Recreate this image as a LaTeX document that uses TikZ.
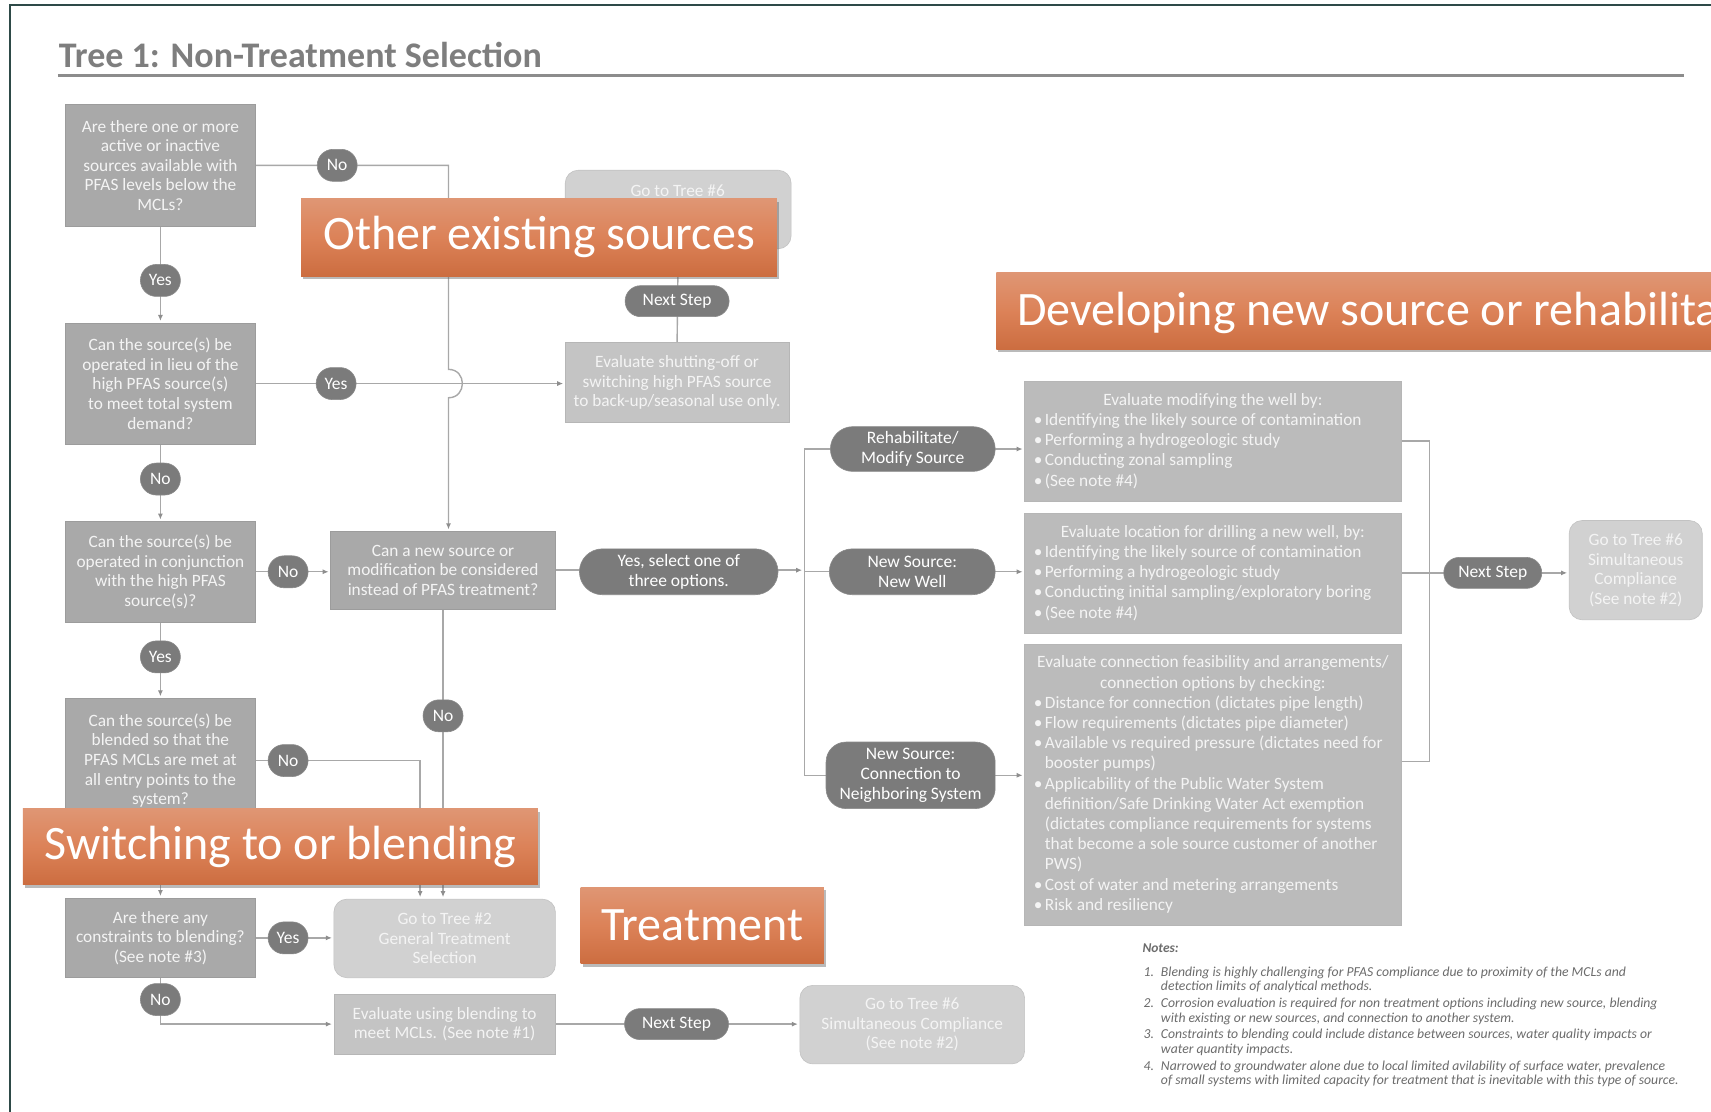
\documentclass[tikz,border=0pt]{standalone}
\usepackage{fontspec}
\setmainfont{Carlito}
\usetikzlibrary{shadows,arrows.meta,calc,shapes.misc}
\definecolor{qfill}{HTML}{A9A9A9}
\definecolor{qdraw}{HTML}{9C9C9C}
\definecolor{lfill}{HTML}{C4C4C4}
\definecolor{ldraw}{HTML}{B6B6B6}
\definecolor{mfill}{HTML}{BBBBBB}
\definecolor{rfill}{HTML}{D1D1D1}
\definecolor{rdraw}{HTML}{C2C2C2}
\definecolor{pillc}{HTML}{7B7B7B}
\definecolor{pilld}{HTML}{8A8A8A}
\definecolor{connc}{HTML}{A8A8A8}
\definecolor{tipc}{HTML}{8E8E8E}
\definecolor{boxtxt}{HTML}{F4F4F4}
\definecolor{titlec}{HTML}{7E7E7E}
\definecolor{rulec}{HTML}{8C8C8C}
\definecolor{framec}{HTML}{2E4A48}
\definecolor{otop}{HTML}{DF9674}
\definecolor{omid}{HTML}{DC8258}
\definecolor{obot}{HTML}{CC6D40}
\definecolor{notec}{HTML}{6C6C6C}
\newcommand{\bitem}{\makebox[11pt][l]{\textbullet}}
\newcommand{\bcont}{\hspace*{11pt}}
\newcommand{\bhead}[1]{\makebox[\linewidth][c]{#1}}
\newcommand{\blist}[1]{\begin{minipage}{358pt}\raggedright #1\end{minipage}}
\pgfdeclarelayer{bg}
\pgfsetlayers{bg,main}
\begin{document}
\begin{tikzpicture}[x=1.0912pt,y=-1.0912pt,
  every node/.style={inner sep=0pt, outer sep=0pt},
  bx/.style n args={4}{at={({(#1+#3)/2},{(#2+#4)/2})},
     minimum width={(#3-#1)*1.0912pt}, minimum height={(#4-#2)*1.0912pt}},
  boxfont/.style={font=\fontsize{17.3}{19.6}\selectfont},
  listfont/.style={font=\fontsize{17.3}{20.2}\selectfont},
  qbox/.style={draw=qdraw, line width=0.6pt, fill=qfill, text=boxtxt, align=center, boxfont},
  lbox/.style={qbox, fill=lfill, draw=ldraw},
  mbox/.style={draw=ldraw, line width=0.6pt, fill=mfill, text=boxtxt, listfont},
  rbox/.style={qbox, fill=rfill, draw=rdraw, rounded corners=13pt},
  pillbox/.style={rounded rectangle, fill=pillc, draw=pilld, line width=0.6pt, text=white, align=center, font=\fontsize{17.5}{19.6}\selectfont},
  sp/.style={pillbox, minimum width=40pt, minimum height=32pt},
  nsp/.style={pillbox, minimum width=104pt, minimum height=31pt},
  ln/.style={draw=connc, line width=1.4pt},
  arr/.style={ln, -{Latex[length=6pt,width=5pt,color=tipc]}, shorten >=2pt},
  orangebox/.style={top color=otop, bottom color=obot, middle color=omid, draw=none, text=white,
    font=\fontsize{48}{56}\selectfont,
    drop shadow={shadow xshift=2pt, shadow yshift=-3pt, opacity=0.45, fill=black!60}},
  otext/.style={text=white, font=\fontsize{48}{56}\selectfont}
  ]
\useasboundingbox (0,0) rectangle (1568,1019);
\begin{pgfonlayer}{bg}
\fill[white] (0,0) rectangle (1568,1019);
\end{pgfonlayer}
\clip (0,0) rectangle (1568,1019);

% frame, title
\draw[framec, line width=2pt] (9,1019) -- (9,5) -- (1568,5);
\node[anchor=west, text=titlec, font=\fontsize{36}{40}\selectfont\bfseries] (title) at (54,50) {Tree 1: Non-Treatment Selection};
\draw[rulec, line width=3pt] (53,69) -- (1543,69);

% question boxes
\node[qbox, bx={60}{96}{234}{207}] (q1) {Are there one or more\\active or inactive\\sources available with\\PFAS levels below the\\MCLs?};
\node[qbox, bx={60}{296}{234}{407}] (q2) {Can the source(s) be\\operated in lieu of the\\high PFAS source(s)\\to meet total system\\demand?};
\node[qbox, bx={60}{478}{234}{570}] (q3) {Can the source(s) be\\operated in conjunction\\with the high PFAS\\source(s)?};
\node[qbox, bx={60}{640}{234}{754}] (q4) {Can the source(s) be\\blended so that the\\PFAS MCLs are met at\\all entry points to the\\system?};
\node[qbox, bx={60}{823}{234}{896}] (q5) {Are there any\\constraints to blending?\\(See note \#3)};
\node[qbox, bx={303}{487}{509}{558}] (qnew) {Can a new source or\\modification be considered\\instead of PFAS treatment?};

% outcome boxes
\node[lbox, bx={518}{314}{723}{387}] (evalsw) {Evaluate shutting-off or\\switching high PFAS source\\to back-up/seasonal use only.};
\node[rbox, bx={518}{156}{725}{228}] (tree6a) {};
\node[text=boxtxt, boxfont] (tree6at) at (621,175) {Go to Tree \#6};
\node[rbox, bx={306}{824}{509}{896}] (tree2) {Go to Tree \#2\\General Treatment\\Selection};
\node[lbox, bx={306}{911}{509}{966}] (evalbl) {Evaluate using blending to\\meet MCLs. (See note \#1)};
\node[rbox, bx={733}{903}{939}{975}] (tree6b) {Go to Tree \#6\\Simultaneous Compliance\\(See note \#2)};
\node[rbox, bx={1438}{477}{1560}{568}] (tree6c) {Go to Tree \#6\\Simultaneous\\Compliance\\(See note \#2)};

\node[mbox, bx={939}{349}{1284}{459}] (evmod) {\blist{\bhead{Evaluate modifying the well by:}\\
\bitem Identifying the likely source of contamination\\
\bitem Performing a hydrogeologic study\\
\bitem Conducting zonal sampling\\
\bitem (See note \#4)}};
\node[mbox, bx={939}{470}{1284}{580}] (evnew) {\blist{\bhead{Evaluate location for drilling a new well, by:}\\
\bitem Identifying the likely source of contamination\\
\bitem Performing a hydrogeologic study\\
\bitem Conducting initial sampling/exploratory boring\\
\bitem (See note \#4)}};
\node[mbox, bx={939}{590}{1284}{848}] (evcon) {\blist{\bhead{Evaluate connection feasibility and arrangements/}\\
\bhead{connection options by checking:}\\
\bitem Distance for connection (dictates pipe length)\\
\bitem Flow requirements (dictates pipe diameter)\\
\bitem Available vs required pressure (dictates need for\\
\bcont booster pumps)\\
\bitem Applicability of the Public Water System\\
\bcont definition/Safe Drinking Water Act exemption\\
\bcont (dictates compliance requirements for systems\\
\bcont that become a sole source customer of another\\
\bcont PWS)\\
\bitem Cost of water and metering arrangements\\
\bitem Risk and resiliency}};

% pills
\node[sp] (no1) at ($(q1.east)+(75,0)$) {No};
\node[sp] (yes1) at ($(q1.south)+(0,50)$) {Yes};
\node[sp] (yes2) at ($(q2.east)+(74,0)$) {Yes};
\node[nsp] (ns1) at ($(evalsw.north)+(0,-38)$) {Next Step};
\node[sp] (no2) at ($(q2.south)+(0,32)$) {No};
\node[sp] (no3) at ($(q3.east)+(30,0)$) {No};
\node[pillbox, bx={531}{503}{713}{545}] (sel) {Yes, select one of\\three options.};
\node[pillbox, bx={761}{391}{912}{432}] (rehab) {Rehabilitate/\\Modify Source};
\node[pillbox, bx={760}{503}{912}{545}] (well) {New Source:\\New Well};
\node[pillbox, rectangle, rounded corners=20pt, bx={757}{680}{912}{741}] (conn) {New Source:\\Connection to\\Neighboring System};
\node[nsp, minimum width=98pt] (ns3) at ($(evnew.east)+(84,0)$) {Next Step};
\node[sp] (yes3) at ($(q3.south)+(0,32)$) {Yes};
\node[sp] (no4) at ($(q4.east)+(30,0)$) {No};
\node[sp] (no5) at ($(qnew.south)+(0,98)$) {No};
\node[sp] (yes4) at ($(q5.east)+(30,0)$) {Yes};
\node[sp] (no6) at ($(q5.south)+(0,20)$) {No};
\node[nsp] (ns2) at ($(evalbl.east)+(111,0)$) {Next Step};

% connectors
\coordinate (vx) at (411,0);
\coordinate (trunk) at (737,0);
\coordinate (brx) at (1310,0);
\coordinate (xk) at (385,0);
\begin{pgfonlayer}{bg}
\draw[arr] (q1.east) -- (q1.east -| vx) -- ($(vx |- q2.east)+(0,-13)$)
  .. controls ($(vx |- q2.east)+(17,-13)$) and ($(vx |- q2.east)+(17,13)$) .. ($(vx |- q2.east)+(0,13)$)
  -- (vx |- qnew.north);
\draw[arr] (q1.south) -- (q2.north);
\draw[arr] (q2.east) -- (q2.east -| evalsw.west);
\draw[arr] (evalsw.north) -- (tree6a.south);
\draw[arr] (q2.south) -- (q3.north);
\draw[arr] (q3.east) -- (q3.east -| qnew.west);
\draw[arr] (qnew.east) -- (qnew.east -| trunk);
\draw[ln] (trunk |- rehab) -- (trunk |- conn);
\draw[arr] (trunk |- rehab) -- (rehab -| evmod.west);
\draw[arr] (trunk |- well) -- (well -| evnew.west);
\draw[arr] (trunk |- conn) -- (conn -| evcon.west);
\coordinate (cI) at ($(evcon.east)+(0,-21)$);
\draw[ln] (evmod.east) -- (evmod.east -| brx) -- (brx |- cI) -- (cI);
\draw[arr] (evnew.east) -- (evnew.east -| tree6c.west);
\draw[arr] (q3.south) -- (q4.north);
\draw[arr] (q4.east) -- (q4.east -| xk) -- (xk |- tree2.north);
\draw[arr] (qnew.south) -- (qnew.south |- tree2.north);
\draw[arr] (q4.south) -- (q5.north);
\draw[arr] (q5.east) -- (q5.east -| tree2.west);
\draw[arr] (q5.south) -- (q5.south |- evalbl.west) -- (evalbl.west);
\draw[arr] (evalbl.east) -- (evalbl.east -| tree6b.west);
\end{pgfonlayer}

% notes
\node[anchor=west, text=notec, font=\fontsize{13.5}{14.7}\selectfont\bfseries\itshape] (noteshead) at (1047,869) {Notes:};
\node[anchor=north west, text=notec, font=\fontsize{13.7}{14.7}\selectfont\itshape] (notelist) at (1048,885) {%
\begin{tabular}{@{}l@{\hspace{7pt}}l@{}}
1. & Blending is highly challenging for PFAS compliance due to proximity of  the MCLs and\\
   & detection limits of analytical methods.\\[2pt]
2. & Corrosion evaluation is required for non treatment options including new source, blending\\
   & with existing or new sources, and connection to another system.\\[2pt]
3. & Constraints to blending could include distance between sources, water quality impacts or\\
   & water quantity impacts.\\[2pt]
4. & Narrowed to groundwater alone due to local limited avilability of surface water, prevalence\\
   & of small systems with limited capacity for treatment that is inevitable with this type of source.
\end{tabular}};

% orange labels
\node[orangebox, bx={276}{182}{712}{253}] (lab1) {Other existing sources};
\node[orangebox, bx={913}{250}{1800}{320}] (lab2) {};
\node[otext, anchor=west] (lab2t) at (932,287) {Developing new source or rehabilitation};
\node[orangebox, bx={21}{741}{493}{811}] (lab3) {Switching to or blending};
\node[orangebox, bx={532}{813}{755}{883}] (lab4) {Treatment};
\end{tikzpicture}
\end{document}
